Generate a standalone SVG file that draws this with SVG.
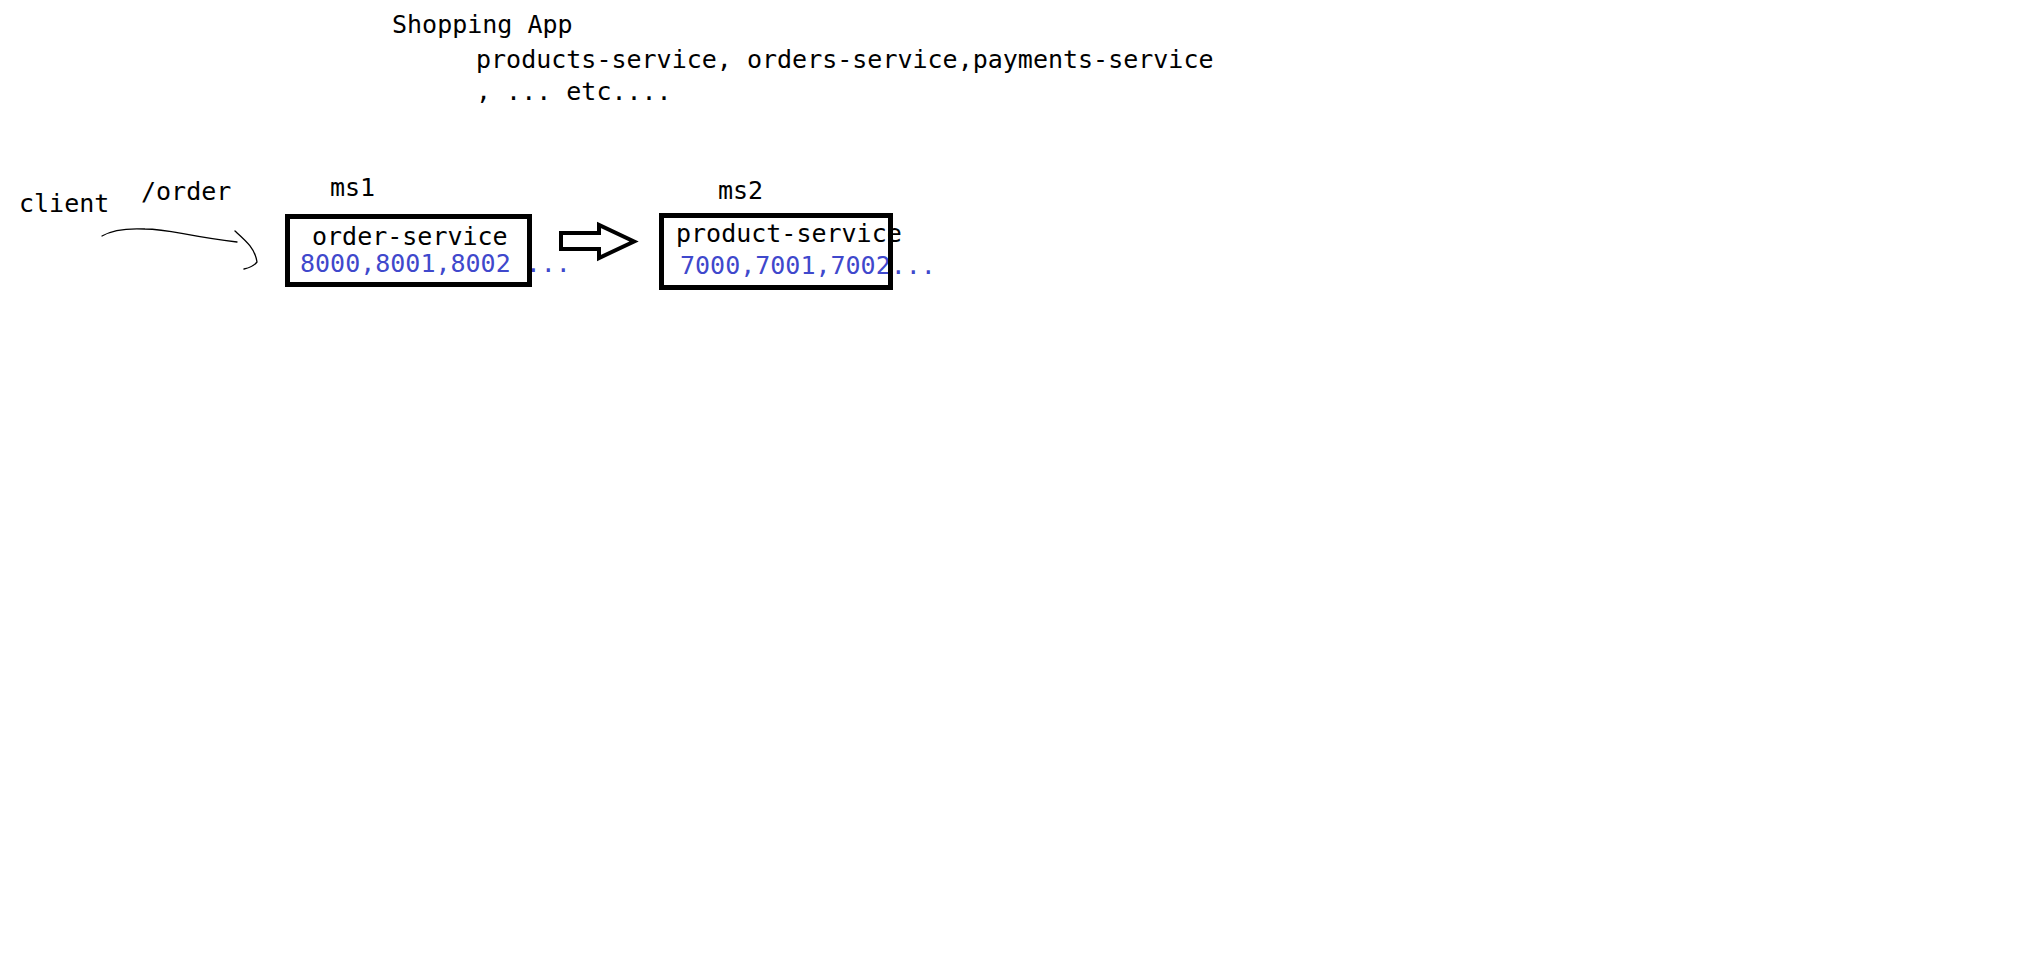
<svg xmlns="http://www.w3.org/2000/svg" width="2022" height="978" viewBox="0 0 2022 978">
<style>
text{font-family:"DejaVu Sans Mono","Liberation Mono",monospace;font-size:25px;fill:#000}
.port{fill:#3f48cc}
.box{fill:none;stroke:#000;stroke-width:5}
.ln{fill:none;stroke:#000;stroke-width:1.3;stroke-linecap:round;stroke-linejoin:round}
</style>
<rect width="2022" height="978" fill="#fff"/>
<g id="title">
<text x="392" y="33">Shopping App</text>
<text x="476" y="68">products-service, orders-service,payments-service</text>
<text x="476" y="100">, ... etc....</text>
</g>
<g id="client"><text x="19" y="212">client</text></g>
<g id="route-label"><text x="141" y="200">/order</text></g>
<g id="ms1">
<text x="330" y="196">ms1</text>
<text x="312" y="245">order-service</text>
<text class="port" x="300" y="272">8000,8001,8002 ...</text>
<rect class="box" x="287.5" y="216.5" width="242" height="68"/>
</g>
<g id="ms2">
<text x="718" y="199">ms2</text>
<text x="676" y="242">product-service</text>
<text class="port" x="680" y="274">7000,7001,7002...</text>
<rect class="box" x="661.5" y="215.5" width="229" height="72"/>
</g>
<g id="connectors">
<path class="ln" d="M102,236 C112,230 125,228 145,229 C170,229 185,236 237,242"/>
<path class="ln" d="M235,231 C245,240 255,248 257,262 C254,266 249,268 244,269"/>
<polygon points="561,233 599,233 599,225 634,241.5 599,258 599,249 561,249" fill="none" stroke="#000" stroke-width="4" stroke-linejoin="miter"/>
</g>
</svg>
